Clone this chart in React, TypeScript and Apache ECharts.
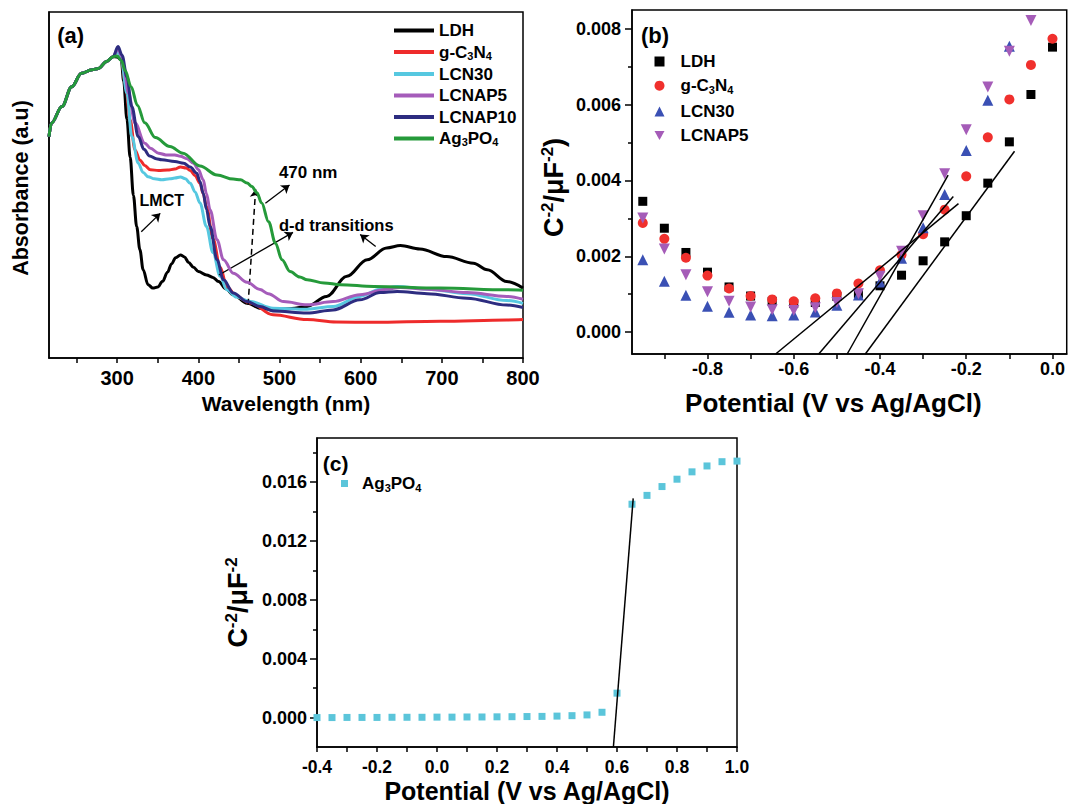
import { useEffect, useRef } from 'react';
import * as echarts from 'echarts';

const FONT = "'Liberation Sans', Arial, Helvetica, sans-serif";

// ---------- (a) UV-vis absorbance: [wavelength (nm), absorbance (a.u.)] ----------
// below ~295 nm all six spectra coincide
const uvShoulder = [[216, 0.64], [219, 0.679], [232, 0.727], [244, 0.784], [256, 0.823], [269, 0.833], [277, 0.837], [287, 0.857], [295, 0.871]];

const ldhUv = [...uvShoulder, [300, 0.87], [305, 0.862], [308, 0.8], [312, 0.69], [316, 0.58], [320, 0.47], [324, 0.38], [328, 0.313], [332, 0.255], [338, 0.212], [344, 0.202], [350, 0.205], [356, 0.222], [362, 0.248], [367, 0.272], [372, 0.29], [378, 0.298], [383, 0.292], [388, 0.276], [394, 0.262], [400, 0.25], [410, 0.24], [418, 0.233], [425, 0.221], [434, 0.2], [443, 0.183], [460, 0.158], [478, 0.143], [493, 0.14], [515, 0.143], [534, 0.149], [558, 0.178], [583, 0.236], [608, 0.284], [632, 0.318], [649, 0.325], [673, 0.315], [706, 0.293], [739, 0.274], [756, 0.255], [780, 0.221], [800, 0.202]];

const gcnUv = [...uvShoulder, [301, 0.885], [305, 0.87], [310, 0.794], [316, 0.688], [322, 0.601], [328, 0.572], [334, 0.556], [341, 0.544], [351, 0.542], [362, 0.543], [371, 0.546], [378, 0.552], [385, 0.549], [390, 0.542], [396, 0.527], [402, 0.505], [406, 0.475], [410, 0.438], [418, 0.345], [427, 0.262], [435, 0.207], [447, 0.178], [464, 0.159], [492, 0.125], [534, 0.111], [570, 0.104], [616, 0.103], [698, 0.106], [780, 0.11], [800, 0.111]];

const lcn30Uv = [...uvShoulder, [301, 0.885], [305, 0.862], [312, 0.765], [318, 0.64], [326, 0.563], [332, 0.536], [338, 0.524], [346, 0.518], [355, 0.515], [365, 0.518], [371, 0.52], [378, 0.523], [384, 0.518], [390, 0.505], [396, 0.48], [402, 0.448], [410, 0.38], [418, 0.305], [427, 0.236], [435, 0.197], [447, 0.176], [464, 0.163], [492, 0.144], [534, 0.141], [566, 0.149], [599, 0.178], [624, 0.199], [645, 0.207], [682, 0.199], [731, 0.186], [780, 0.166], [800, 0.158]];

const lcnap5Uv = [...uvShoulder, [301, 0.894], [305, 0.875], [308, 0.842], [314, 0.765], [322, 0.679], [334, 0.621], [341, 0.606], [351, 0.592], [360, 0.587], [371, 0.587], [378, 0.583], [386, 0.576], [394, 0.563], [400, 0.545], [406, 0.515], [410, 0.475], [414.5, 0.428], [423, 0.342], [431, 0.284], [443, 0.245], [460, 0.219], [476, 0.198], [486, 0.186], [505, 0.163], [534, 0.154], [566, 0.163], [599, 0.183], [632, 0.199], [649, 0.204], [682, 0.199], [731, 0.189], [780, 0.178], [800, 0.17]];

const lcnap10Uv = [...uvShoulder, [301, 0.9], [306, 0.875], [312, 0.813], [318, 0.727], [326, 0.64], [333, 0.603], [340, 0.584], [348, 0.576], [355, 0.573], [371, 0.568], [382, 0.563], [390, 0.552], [398, 0.534], [402, 0.51], [406, 0.476], [410, 0.43], [414.5, 0.38], [423, 0.284], [431, 0.226], [443, 0.188], [460, 0.163], [476, 0.149], [492, 0.136], [534, 0.13], [566, 0.139], [599, 0.168], [624, 0.189], [645, 0.192], [682, 0.186], [731, 0.173], [780, 0.153], [800, 0.146]];

const ag3po4Uv = [...uvShoulder, [300, 0.873], [305, 0.86], [310, 0.83], [317, 0.785], [325, 0.73], [334, 0.68], [347, 0.637], [365, 0.611], [381, 0.592], [402, 0.555], [423, 0.529], [443, 0.517], [452, 0.515], [460, 0.506], [466, 0.496], [472, 0.478], [478, 0.448], [486.5, 0.394], [495, 0.332], [503, 0.284], [513, 0.25], [525, 0.234], [534, 0.226], [555, 0.217], [575, 0.212], [616, 0.207], [698, 0.202], [780, 0.197], [800, 0.196]];

// ---------- (b) Mott-Schottky: potential (V) vs C^-2 ----------
const potentialB = [-0.95, -0.9, -0.85, -0.8, -0.75, -0.7, -0.65, -0.6, -0.55, -0.5, -0.45, -0.4, -0.35, -0.3, -0.25, -0.2, -0.15, -0.1, -0.05, 0];
const ldhMs = [0.00345, 0.00274, 0.0021, 0.00158, 0.00119, 0.00095, 0.00081, 0.00075, 0.00078, 0.00094, 0.00102, 0.00122, 0.0015, 0.00188, 0.00238, 0.00307, 0.00393, 0.00502, 0.00627, 0.00752];
const gcnMs = [0.00288, 0.00246, 0.00196, 0.00149, 0.00115, 0.00095, 0.00086, 0.00081, 0.00089, 0.00102, 0.00128, 0.00163, 0.00204, 0.00258, 0.00323, 0.00411, 0.00514, 0.00614, 0.00705, 0.00774];
const lcn30Ms = [0.00191, 0.00134, 0.00097, 0.00068, 0.00052, 0.00045, 0.00043, 0.00045, 0.00053, 0.00071, 0.00098, 0.00132, 0.00195, 0.00275, 0.00363, 0.00479, 0.00612, 0.00754];
const lcnap5Ms = [0.00301, 0.00219, 0.00151, 0.00106, 0.00081, 0.00066, 0.00059, 0.00057, 0.00064, 0.00078, 0.00101, 0.00147, 0.00213, 0.00307, 0.00418, 0.00534, 0.00647, 0.00741, 0.00822];
// linear fits of the rising branches (extrapolated down to the axis)
const fitLinesB = [
  [[-0.642, -0.00058], [-0.218, 0.00339]],
  [[-0.542, -0.00058], [-0.23, 0.00358]],
  [[-0.476, -0.00058], [-0.242, 0.00414]],
  [[-0.434, -0.00058], [-0.088, 0.00477]],
];

// ---------- (c) Mott-Schottky of Ag3PO4 ----------
const potentialC = [-0.4, -0.35, -0.3, -0.25, -0.2, -0.15, -0.1, -0.05, 0, 0.05, 0.1, 0.15, 0.2, 0.25, 0.3, 0.35, 0.4, 0.45, 0.5, 0.55, 0.6, 0.65, 0.7, 0.75, 0.8, 0.85, 0.9, 0.95, 1.0];
const ag3po4Ms = [0, 0, 0.00001, 0.00001, 0.00001, 0.00002, 0.00002, 0.00002, 0.00003, 0.00003, 0.00004, 0.00004, 0.00005, 0.00006, 0.00007, 0.00008, 0.0001, 0.00013, 0.00018, 0.00036, 0.00166, 0.0145, 0.0151, 0.0157, 0.0162, 0.0167, 0.0171, 0.01739, 0.01743];
const fitLineC = [[0.588, -0.002], [0.654, 0.0149]];

// ---------- tick values ----------
const ticksAx = [250, 300, 350, 400, 450, 500, 550, 600, 650, 700, 750, 800];
const labelsAx = [300, 400, 500, 600, 700, 800];
const ticksBx = [-0.9, -0.8, -0.7, -0.6, -0.5, -0.4, -0.3, -0.2, -0.1, 0];
const labelsBx = [-0.8, -0.6, -0.4, -0.2, 0];
const majorBy = [0, 0.002, 0.004, 0.006, 0.008];
const minorBy = [0.001, 0.003, 0.005, 0.007];
const ticksCx = [-0.4, -0.3, -0.2, -0.1, 0, 0.1, 0.2, 0.3, 0.4, 0.5, 0.6, 0.7, 0.8, 0.9, 1.0];
const labelsCx = [-0.4, -0.2, 0, 0.2, 0.4, 0.6, 0.8, 1.0];
const majorCy = [0, 0.004, 0.008, 0.012, 0.016];
const minorCy = [0.002, 0.006, 0.01, 0.014, 0.018];

const LEGEND_TEXT: Record<string, string> = {
  LDH: '{t|LDH}',
  'g-C3N4': '{t|g-C}{s|3}{t|N}{s|4}',
  LCN30: '{t|LCN30}',
  LCNAP5: '{t|LCNAP5}',
  LCNAP10: '{t|LCNAP10}',
  Ag3PO4: '{t|Ag}{s|3}{t|PO}{s|4}',
};

const bold = (size: number) => ({ fontFamily: FONT, fontWeight: 'bold' as const, fontSize: size, color: '#000' });

const pairs = (xs: number[], ys: number[]) => ys.map((y, i) => [xs[i], y]);

const legendRich = (size: number, sub: number, lh: number, gap: number) => ({
  rich: {
    g: { ...bold(size), width: gap, lineHeight: lh },
    t: { ...bold(size), lineHeight: lh },
    s: { ...bold(sub), lineHeight: 8, verticalAlign: 'bottom' },
  },
});

const axisLine = { show: true, onZero: false, lineStyle: { color: '#000', width: 1.5 } };
const tickStyle = { color: '#000', width: 1.5 };

const capRich = (n: number, s: number) => ({
  n: { ...bold(n), lineHeight: n + 3 },
  s: { ...bold(s), lineHeight: s - 3, verticalAlign: 'top' },
});

function buildOption() {
  const uvSeries = [
    ['LDH', ldhUv, '#000000'],
    ['g-C3N4', gcnUv, '#ee2b2b'],
    ['LCN30', lcn30Uv, '#56c8e0'],
    ['LCNAP5', lcnap5Uv, '#a55cba'],
    ['LCNAP10', lcnap10Uv, '#2d2c80'],
    ['Ag3PO4', ag3po4Uv, '#259a3a'],
  ].map(([name, data, color], i) => ({
    type: 'line',
    name: 'a:' + name,
    xAxisIndex: 0,
    yAxisIndex: 0,
    data,
    smooth: 0.35,
    smoothMonotone: 'x',
    symbol: 'none',
    color,
    lineStyle: { color, width: 3 },
    z: 2 + i,
    ...(i === 0
      ? {
          markLine: {
            silent: true,
            symbol: ['none', 'arrow'],
            symbolSize: 8,
            label: { show: false },
            lineStyle: { color: '#000', width: 1.3, type: 'solid' },
            data: [
              [{ coord: [329.7, 0.365] }, { coord: [353.1, 0.418] }],
              [{ coord: [482.6, 0.447] }, { coord: [512.3, 0.5] }],
              [{ coord: [425.3, 0.24] }, { coord: [516.6, 0.363] }],
              [{ coord: [618.5, 0.322] }, { coord: [599.4, 0.357] }],
              [{ coord: [461.3, 0.154], lineStyle: { type: [6, 4], width: 1.5 } }, { coord: [470.6, 0.488] }],
            ],
          },
        }
      : {}),
  }));

  const msSeries = [
    ['LDH', ldhMs, '#000000', 'rect', 9],
    ['g-C3N4', gcnMs, '#f0302d', 'circle', 10],
    ['LCN30', lcn30Ms, '#3a50b4', 'triangle', 11],
    ['LCNAP5', lcnap5Ms, '#a55cb8', 'path://M0,0L10,0L5,9Z', 11],
  ].map(([name, ys, color, symbol, size]) => ({
    type: 'scatter',
    name: 'b:' + name,
    xAxisIndex: 1,
    yAxisIndex: 1,
    data: pairs(potentialB, ys as number[]),
    symbol,
    symbolSize: size,
    itemStyle: { color, opacity: 1 },
    z: 3,
  }));

  const fitB = fitLinesB.map((d) => ({
    type: 'line',
    xAxisIndex: 1,
    yAxisIndex: 1,
    data: d,
    symbol: 'none',
    lineStyle: { color: '#000', width: 1.5 },
    z: 4,
  }));

  const legendFormatter = (name: string) => LEGEND_TEXT[name.split(':')[1]];
  const spacedFormatter = (name: string) => '{g| }' + LEGEND_TEXT[name.split(':')[1]];

  return {
    animation: false,
    backgroundColor: '#fff',
    grid: [
      { left: 49, top: 12, width: 474, height: 346, show: true, borderColor: '#000', borderWidth: 1.5 },
      { left: 632, top: 10, width: 435, height: 344, show: true, borderColor: '#000', borderWidth: 1.5 },
      { left: 317, top: 438, width: 420, height: 310, show: true, borderColor: '#000', borderWidth: 1.5 },
    ],
    xAxis: [
      {
        gridIndex: 0, type: 'value', min: 216, max: 800,
        axisLine, splitLine: { show: false },
        axisTick: { customValues: ticksAx, length: 5, lineStyle: tickStyle },
        axisLabel: { customValues: labelsAx, margin: 10, ...bold(20) },
        name: 'Wavelength (nm)', nameLocation: 'middle', nameGap: 35, nameTextStyle: bold(21),
      },
      {
        gridIndex: 1, type: 'value', min: -0.975, max: 0.033,
        axisLine, splitLine: { show: false },
        axisTick: { customValues: ticksBx, length: 5, lineStyle: tickStyle },
        axisLabel: { customValues: labelsBx, margin: 6, ...bold(18), formatter: (v: number) => v.toFixed(1) },
        name: 'Potential (V vs Ag/AgCl)', nameLocation: 'middle', nameGap: 36,
        nameTextStyle: { ...bold(26), padding: [0, 32, 0, 0] },
      },
      {
        gridIndex: 2, type: 'value', min: -0.4, max: 1.0,
        axisLine, splitLine: { show: false },
        axisTick: { customValues: ticksCx, length: 5, lineStyle: tickStyle },
        axisLabel: { customValues: labelsCx, margin: 11, ...bold(17.5), formatter: (v: number) => v.toFixed(1) },
        name: 'Potential (V vs Ag/AgCl)', nameLocation: 'middle', nameGap: 31, nameTextStyle: bold(25),
      },
    ],
    yAxis: [
      {
        gridIndex: 0, type: 'value', min: 0, max: 1, position: 'left',
        axisLine, splitLine: { show: false }, axisTick: { show: false }, axisLabel: { show: false },
        name: 'Absorbance (a.u)', nameLocation: 'middle', nameGap: 17,
        nameTextStyle: { ...bold(21.5), padding: [0, 6, 0, 0] },
      },
      {
        gridIndex: 1, type: 'value', min: -0.00058, max: 0.0085, position: 'left',
        axisLine, splitLine: { show: false },
        axisTick: { customValues: majorBy, length: 7, lineStyle: tickStyle },
        axisLabel: { customValues: majorBy, margin: 11, ...bold(18), formatter: (v: number) => v.toFixed(3) },
        name: '{n|C}{s|-2}{n|/μF}{s|-2}{n|)}', nameLocation: 'middle', nameGap: 63,
        nameTextStyle: { rich: capRich(27, 17), padding: [0, 11, 0, 0] },
      },
      {
        gridIndex: 1, type: 'value', min: -0.00058, max: 0.0085, position: 'left',
        axisLine: { show: false, onZero: false }, splitLine: { show: false }, axisLabel: { show: false },
        axisTick: { customValues: minorBy, length: 4, lineStyle: tickStyle },
      },
      {
        gridIndex: 2, type: 'value', min: -0.002, max: 0.019, position: 'left',
        axisLine, splitLine: { show: false },
        axisTick: { customValues: majorCy, length: 7, lineStyle: tickStyle },
        axisLabel: { customValues: majorCy, margin: 10, ...bold(18), formatter: (v: number) => v.toFixed(3) },
        name: '{n|C}{s|-2}{n|/μF}{s|-2}', nameLocation: 'middle', nameGap: 64,
        nameTextStyle: { rich: capRich(27, 17), padding: [0, 20, 0, 0] },
      },
      {
        gridIndex: 2, type: 'value', min: -0.002, max: 0.019, position: 'left',
        axisLine: { show: false, onZero: false }, splitLine: { show: false }, axisLabel: { show: false },
        axisTick: { customValues: minorCy, length: 4, lineStyle: tickStyle },
      },
    ],
    legend: [
      {
        data: uvSeries.map((s) => s.name), orient: 'vertical', left: 394, top: 22, padding: 0,
        itemWidth: 40, itemHeight: 4, itemGap: 4.5, icon: 'rect', selectedMode: false,
        formatter: legendFormatter, textStyle: legendRich(17, 11, 18, 0),
      },
      {
        data: msSeries.map((s) => s.name), orient: 'vertical', left: 654.5, top: 53, padding: 0,
        itemWidth: 10, itemHeight: 10, itemGap: 7.2, selectedMode: false,
        formatter: spacedFormatter, textStyle: legendRich(17, 11, 20, 11),
      },
      {
        data: ['c:Ag3PO4'], orient: 'vertical', left: 341, top: 475, padding: 0,
        itemWidth: 7, itemHeight: 7, selectedMode: false,
        formatter: spacedFormatter, textStyle: legendRich(17, 11, 20, 9),
      },
    ],
    graphic: [
      { type: 'text', x: 70.6, y: 35, style: { text: '(a)', font: `bold 22px ${FONT}`, fill: '#000', textAlign: 'center', textVerticalAlign: 'middle' } },
      { type: 'text', x: 655, y: 35, style: { text: '(b)', font: `bold 22px ${FONT}`, fill: '#000', textAlign: 'center', textVerticalAlign: 'middle' } },
      { type: 'text', x: 335.7, y: 463, style: { text: '(c)', font: `bold 21px ${FONT}`, fill: '#000', textAlign: 'center', textVerticalAlign: 'middle' } },
      { type: 'text', x: 161.8, y: 200, style: { text: 'LMCT', font: `bold 16px ${FONT}`, fill: '#000', textAlign: 'center', textVerticalAlign: 'middle' } },
      { type: 'text', x: 308.2, y: 172.5, style: { text: '470 nm', font: `bold 17px ${FONT}`, fill: '#000', textAlign: 'center', textVerticalAlign: 'middle' } },
      { type: 'text', x: 336.3, y: 225, style: { text: 'd-d transitions', font: `bold 16.5px ${FONT}`, fill: '#000', textAlign: 'center', textVerticalAlign: 'middle' } },
    ],
    series: [
      ...uvSeries,
      ...msSeries,
      ...fitB,
      {
        type: 'scatter', name: 'c:Ag3PO4', xAxisIndex: 2, yAxisIndex: 3,
        data: pairs(potentialC, ag3po4Ms), symbol: 'rect', symbolSize: 7,
        itemStyle: { color: '#5bc5da', opacity: 1 }, z: 3,
      },
      {
        type: 'line', xAxisIndex: 2, yAxisIndex: 3, data: fitLineC, symbol: 'none',
        lineStyle: { color: '#000', width: 1.5 }, z: 4,
      },
    ],
  };
}

export default function App() {
  const ref = useRef<HTMLDivElement>(null);
  useEffect(() => {
    const chart = echarts.init(ref.current!, null, { renderer: 'svg' });
    chart.setOption(buildOption() as any);
    return () => chart.dispose();
  }, []);
  return (
    <div
      ref={ref}
      style={{ position: 'absolute', left: 0, top: 0, width: 1068, height: 804, background: '#fff' }}
    />
  );
}
